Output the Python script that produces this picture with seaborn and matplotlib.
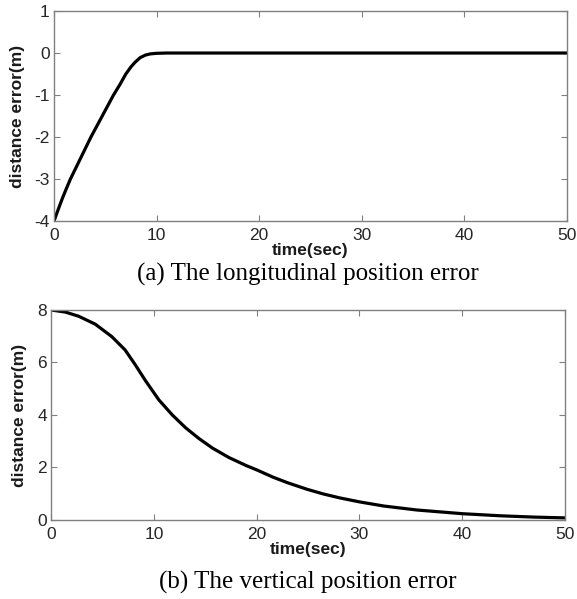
import pandas as pd
import seaborn as sns
import matplotlib
matplotlib.use("Agg")
import matplotlib.pyplot as plt

# --- (a) longitudinal position error ---
t_long = [0, 0.4, 0.8, 1.2, 1.6, 2.6, 3.6, 4.7, 5.8, 6.4, 7.0, 7.5, 7.9, 8.4, 8.9, 9.4, 10.0, 11, 12, 20, 30, 40, 50]
err_long = [-4.0, -3.73, -3.47, -3.23, -3.0, -2.5, -2.0, -1.5, -1.0, -0.76, -0.5, -0.33, -0.22, -0.11, -0.05,
            -0.02, -0.007, 0, 0, 0, 0, 0, 0]

# --- (b) vertical position error ---
t_vert = [0, 1.4, 2.7, 4.3, 5.9, 7.2, 8.2, 9.2, 10.5, 11.8, 13.1, 14.4, 15.7, 17.3, 19.0, 20.0,
          21.6, 23.0, 24.9, 26.5, 28.1, 30.0, 32.4, 35.6, 40.0, 43.7, 47.0, 50.0]
err_vert = [8.0, 7.92, 7.76, 7.46, 6.99, 6.48, 5.91, 5.30, 4.57, 4.0, 3.51, 3.10, 2.74, 2.38, 2.07, 1.91,
            1.63, 1.42, 1.17, 0.99, 0.84, 0.69, 0.53, 0.38, 0.24, 0.16, 0.11, 0.08]

x_ticks = [0, 10, 20, 30, 40, 50]
y_ticks_long = [-4, -3, -2, -1, 0, 1]
y_ticks_vert = [0, 2, 4, 6, 8]
captions = ["(a) The longitudinal position error", "(b) The vertical position error"]

sns.set_style("ticks")
plt.rcParams["font.family"] = ["Liberation Sans", "DejaVu Sans"]
plt.rcParams["axes.unicode_minus"] = False

fig = plt.figure(figsize=(5.77, 5.99), dpi=100)
ax1 = fig.add_axes([0.0936, 0.631, 0.889, 0.3506])
ax2 = fig.add_axes([0.0884, 0.1319, 0.891, 0.3506])

df1 = pd.DataFrame({"t": t_long, "e": err_long})
df2 = pd.DataFrame({"t": t_vert, "e": err_vert})

panels = [(ax1, df1, y_ticks_long, (-4, 1)), (ax2, df2, y_ticks_vert, (0, 8))]
for ax, df, yt, ylim in panels:
    sns.lineplot(data=df, x="t", y="e", color="black", linewidth=2.3, ax=ax)
    ax.set_xlim(0, 50)
    ax.set_ylim(*ylim)
    ax.set_xticks(x_ticks)
    ax.set_yticks(yt)
    ax.tick_params(direction="in", top=True, right=True, length=4, width=0.8,
                   colors="#808080", labelcolor="#262626", labelsize=12.5)
    ax.tick_params(axis="x", pad=5)
    ax.tick_params(axis="y", pad=3)
    for sp in ax.spines.values():
        sp.set_color("#808080")
        sp.set_linewidth(1.0)
    ax.set_xlabel("time(sec)", fontsize=12.5, fontweight="bold", labelpad=0, color="#1a1a1a")
    ax.set_ylabel("distance error(m)", fontsize=12.5, fontweight="bold", labelpad=7, color="#1a1a1a")

fig.text(0.534, 0.5426, captions[0], ha="center", va="center", fontsize=18, color="black",
         family=["Liberation Serif", "DejaVu Serif"])
fig.text(0.534, 0.0284, captions[1], ha="center", va="center", fontsize=18, color="black",
         family=["Liberation Serif", "DejaVu Serif"])

fig.savefig("out.png", dpi=100)
